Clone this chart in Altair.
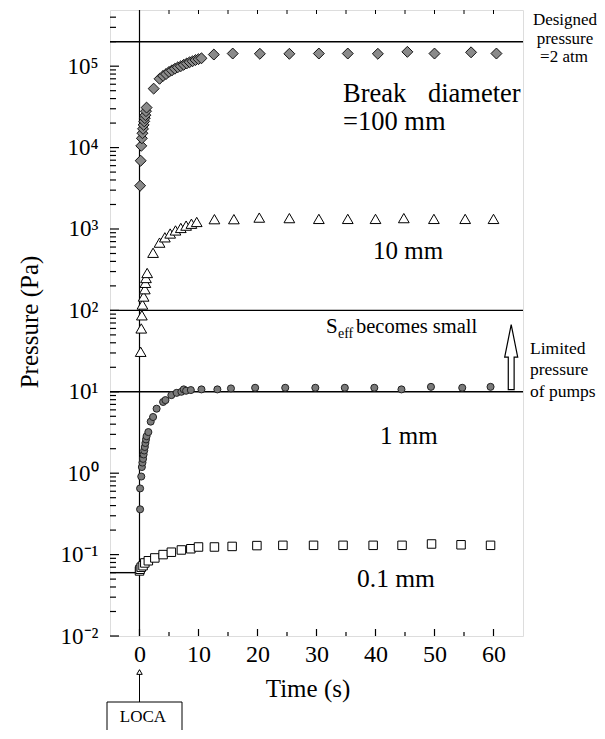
import altair as alt
import pandas as pd

FONT = "Liberation Serif, Times New Roman, serif"

# ---- data ----
t_100 = [0.1, 0.2, 0.3, 0.4, 0.5, 0.6, 0.7, 0.8, 0.9, 1.0, 1.1, 1.2,
         2.4, 3.4, 4.0, 4.5, 5.0, 5.5, 6.0, 6.5, 7.0, 7.5, 8.0, 8.5, 9.0, 9.5, 10.0, 10.5,
         12.6, 15.8, 20.4, 25.4, 30.4, 35.3, 40.4, 45.4, 50.0, 56.2, 60.5]
p_100 = [3.4e3, 6.9e3, 1.05e4, 1.3e4, 1.5e4, 1.7e4, 1.9e4, 2.1e4, 2.3e4, 2.5e4, 2.8e4, 3.1e4,
         5.3e4, 7.0e4, 7.6e4, 8.0e4, 8.5e4, 8.9e4, 9.3e4, 9.7e4, 1.0e5, 1.04e5, 1.08e5, 1.12e5,
         1.15e5, 1.19e5, 1.22e5, 1.25e5,
         1.39e5, 1.43e5, 1.42e5, 1.42e5, 1.43e5, 1.43e5, 1.42e5, 1.5e5, 1.43e5, 1.48e5, 1.43e5]

t_10 = [0.2, 0.3, 0.4, 0.5, 0.7, 0.9, 1.0, 1.1, 1.3,
        2.3, 3.4, 4.3, 5.2, 6.1, 7.0, 7.9, 8.8, 9.7,
        12.7, 16.0, 20.3, 25.4, 30.4, 35.3, 40.0, 44.8, 49.9, 55.2, 60.0]
p_10 = [31, 60, 87, 118, 148, 182, 218, 250, 288,
        510, 680, 790, 880, 960, 1030, 1100, 1160, 1220,
        1320, 1320, 1380, 1360, 1330, 1330, 1330, 1360, 1330, 1330, 1330]

t_1 = [0.1, 0.1, 0.3, 0.4, 0.5, 0.6, 0.7, 0.8, 0.9, 1.0, 1.1, 1.2,
       1.5, 1.9, 2.3, 2.9, 4.0, 4.4, 5.4, 6.3, 7.1, 7.5, 7.9, 8.7,
       10.5, 13.2, 15.5, 19.6, 24.7, 29.8, 34.8, 39.8, 44.4, 49.4, 54.7, 59.5]
p_1 = [0.36, 0.65, 0.91, 1.19, 1.35, 1.5, 1.7, 1.9, 2.1, 2.35, 2.6, 2.85,
       3.2, 4.3, 4.9, 6.2, 7.5, 7.9, 9.1, 9.7, 10.0, 10.7, 10.3, 10.5,
       10.7, 10.7, 11.0, 11.2, 11.2, 11.2, 11.2, 11.2, 10.7, 11.5, 11.2, 11.5]

t_01 = [0.0, 0.1, 0.3, 0.6, 0.9, 1.5,
        2.6, 4.0, 5.4, 7.1, 8.7, 10.0,
        12.7, 15.7, 19.9, 24.3, 29.5, 34.5, 39.6, 44.5, 49.5, 54.5, 59.5]
p_01 = [0.063, 0.066, 0.07, 0.073, 0.079, 0.084,
        0.091, 0.1, 0.107, 0.114, 0.118, 0.124,
        0.124, 0.126, 0.129, 0.13, 0.13, 0.13, 0.13, 0.13, 0.135, 0.132, 0.13]

# reference lines: designed pressure, S_eff small, pump limit, initial pressure
hline_p = [2.0e5, 100, 10, 0.06]
hline_t0 = [-5, -5, -5, -5]
hline_t1 = [65, 65, 65, 0]

x_labels = [0, 10, 20, 30, 40, 50, 60]
x_minor = [5, 15, 25, 35, 45, 55]
y_decades = [1e-2, 1e-1, 1e0, 1e1, 1e2, 1e3, 1e4, 1e5]
y_minor = [m * d for d in [1e-2, 1e-1, 1e0, 1e1, 1e2, 1e3, 1e4, 1e5] for m in range(2, 10)
           if m * d < 4.9e5]

W, H = 413, 626
xs = alt.Scale(domain=[-5, 65], nice=False, zero=False)
ys = alt.Scale(type="log", domain=[0.01, 4.9e5], nice=False)

x_axis = alt.Axis(values=x_labels, title=None, ticks=False, domain=False, grid=False,
                  labelFont=FONT, labelFontSize=24, labelPadding=6, labelColor="black",
                  labelFlush=False)
y_axis = alt.Axis(values=y_decades, title=None, ticks=False, domain=False, grid=False,
                  labelFont=FONT, labelFontSize=23, labelPadding=12, labelColor="black",
                  labelFlush=False,
                  labelExpr="'10' + ['\u207b\u00b2','\u207b\u00b9','\u2070','\u00b9','\u00b2','\u00b3','\u2074','\u2075'][round(log(datum.value)/LN10) + 2]")

X = lambda f: alt.X(f, type="quantitative", scale=xs, axis=x_axis)
Y = lambda f: alt.Y(f, type="quantitative", scale=ys, axis=y_axis)

dummy = pd.DataFrame({"a": [0]})

# reference lines
hl = alt.Chart(pd.DataFrame({"p": hline_p, "t0": hline_t0, "t1": hline_t1})).mark_rule(
    color="black", strokeWidth=1.4).encode(x=X("t0"), x2="t1", y=Y("p"))
vl = alt.Chart(pd.DataFrame({"t": [0]})).mark_rule(color="black", strokeWidth=1.2).encode(x=X("t"))

# ticks (inward)
xt_major = alt.Chart(pd.DataFrame({"t": x_labels})).mark_rule(color="black", strokeWidth=1.2).encode(
    x=X("t"), y=alt.value(H), y2=alt.value(H - 7))
xt_minor = alt.Chart(pd.DataFrame({"t": x_minor})).mark_rule(color="black", strokeWidth=1.2).encode(
    x=X("t"), y=alt.value(H), y2=alt.value(H - 4))
xt_top = alt.Chart(pd.DataFrame({"t": x_labels + x_minor})).mark_rule(color="black", strokeWidth=1).encode(
    x=X("t"), y=alt.value(0), y2=alt.value(4))
yt_major = alt.Chart(pd.DataFrame({"p": y_decades})).mark_rule(color="black", strokeWidth=1.2).encode(
    y=Y("p"), x=alt.value(0), x2=alt.value(9))
yt_minor = alt.Chart(pd.DataFrame({"p": y_minor})).mark_rule(color="black", strokeWidth=1.2).encode(
    y=Y("p"), x=alt.value(0), x2=alt.value(6))


def series(t, p, shape, fill, stroke, size, sw=1.0):
    return alt.Chart(pd.DataFrame({"t": t, "p": p})).mark_point(
        shape=shape, filled=True, fill=fill, stroke=stroke, strokeWidth=sw, size=size, opacity=1
    ).encode(x=X("t"), y=Y("p"))


s100 = series(t_100, p_100, "diamond", "#8a8a8a", "#111111", 120)
s10 = series(t_10, p_10, "triangle-up", "white", "black", 115)
s1 = series(t_1, p_1, "circle", "#7a7a7a", "#222222", 50)
s01 = series(t_01, p_01, "square", "white", "black", 72)


def label(text, x, y, size, align="left", baseline="alphabetic", angle=0):
    return alt.Chart(dummy).mark_text(
        text=text, font=FONT, fontSize=size, align=align, baseline=baseline,
        angle=angle, color="black"
    ).encode(x=alt.value(x), y=alt.value(y))


texts = [
    label("Break", 233, 92, 26.5),
    label("diameter", 318, 92, 26.5),
    label("=100 mm", 233, 120, 26.5),
    label("10 mm", 263, 249, 25),
    label("S", 216, 323, 21),
    label("eff", 228, 328, 14),
    label("becomes small", 246, 323, 20.5),
    label("1 mm", 270, 434, 25),
    label("0.1 mm", 247, 577, 25.5),
    label("Designed", 455, 15, 17, align="center"),
    label("pressure", 455, 34, 17, align="center"),
    label("=2 atm", 454, 52, 17, align="center"),
    label("Limited", 420, 344, 17.5),
    label("pressure", 420, 365, 17.5),
    label("of pumps", 420, 387, 17.5),
    label("Time (s)", 198, 687, 25, align="center"),
    label("Pressure (Pa)", -80, 312, 25, align="center", baseline="middle", angle=270),
    label("LOCA", 33, 707, 17, align="center", baseline="middle"),
]

# hollow arrow (limited pressure of pumps)
arrow = alt.Chart(pd.DataFrame({"t": [63.0], "p": [26.7]})).mark_point(
    shape="M0,-1L0.2,0L0.09,0L0.09,1L-0.09,1L-0.09,0L-0.2,0Z",
    filled=True, fill="white", stroke="black", strokeWidth=1.2, size=4225, opacity=1
).encode(x=X("t"), y=Y("p"))

# LOCA box and pointer
loca_box = alt.Chart(dummy).mark_rect(fill="white", stroke="black", strokeWidth=1).encode(
    x=alt.value(-3), x2=alt.value(72), y=alt.value(692), y2=alt.value(780))
loca_line = alt.Chart(pd.DataFrame({"t": [0]})).mark_rule(color="black", strokeWidth=1).encode(
    x=X("t"), y=alt.value(692), y2=alt.value(660))
loca_head = alt.Chart(pd.DataFrame({"t": [0]})).mark_point(
    shape="triangle-up", filled=True, fill="white", stroke="black", strokeWidth=1, size=30, opacity=1
).encode(x=X("t"), y=alt.value(662))

chart = alt.layer(
    hl, vl, xt_major, xt_minor, xt_top, yt_major, yt_minor,
    s100, s10, s1, s01, arrow, loca_box, loca_line, loca_head, *texts
).properties(
    width=W, height=H,
    autosize=alt.AutoSizeParams(type="none"),
    padding={"left": 102, "top": 2, "right": 74, "bottom": 94},
).configure_view(stroke="black", strokeWidth=1.5).configure(background="white")

chart.save("out.html", embed_options={"renderer": "svg", "actions": False})
